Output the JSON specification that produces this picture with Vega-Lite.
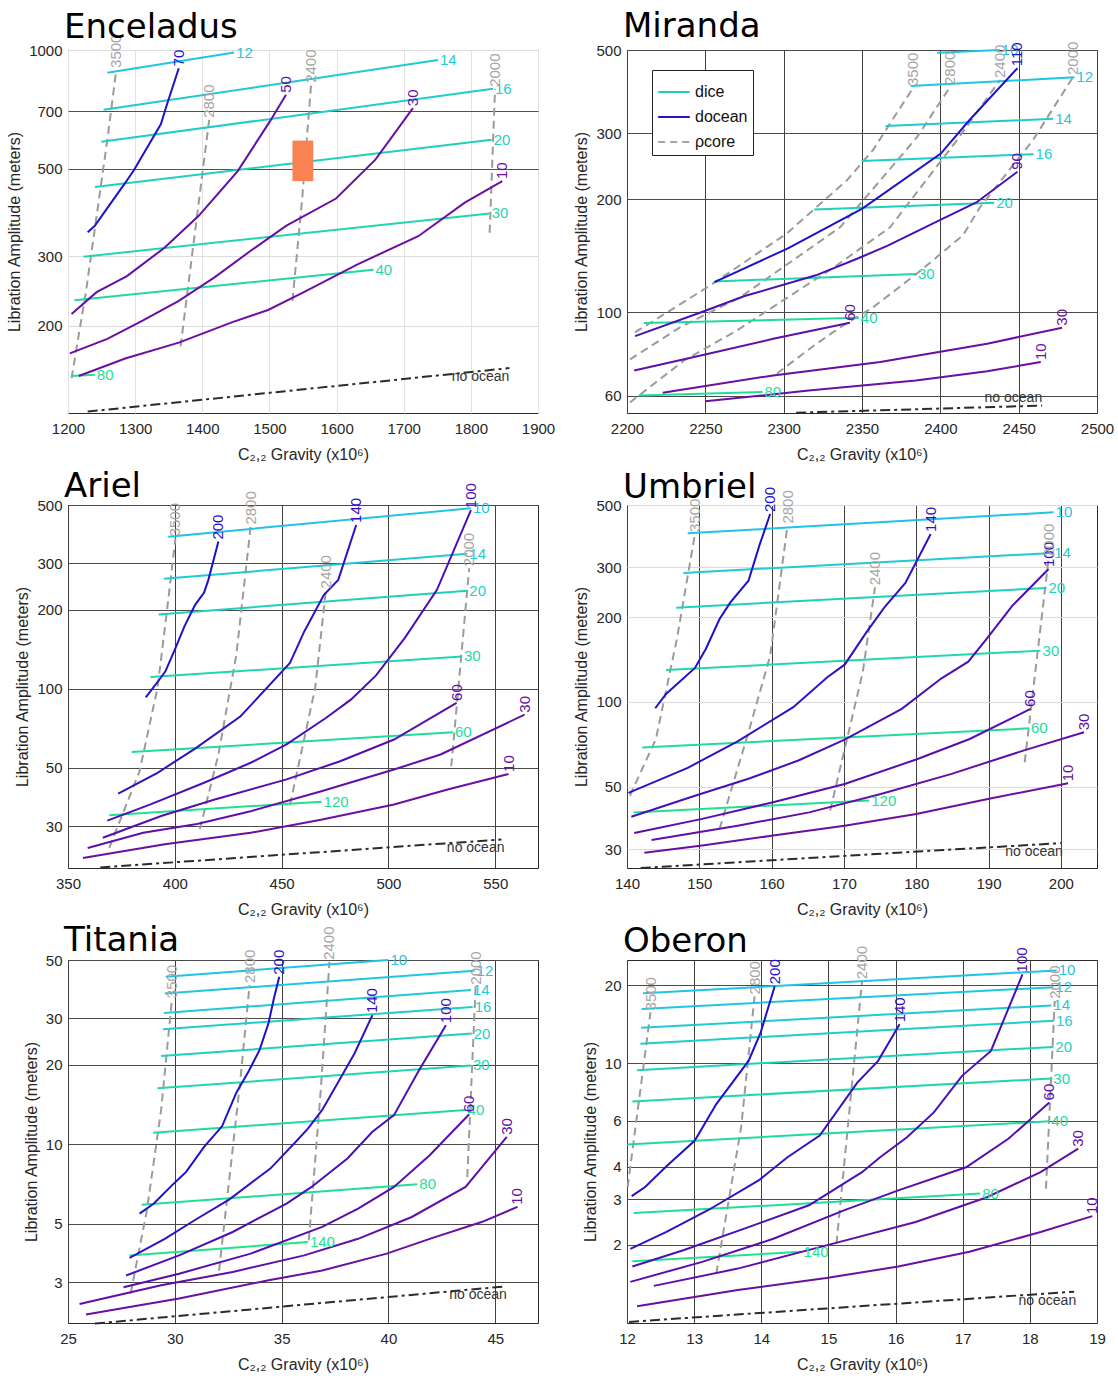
{
"$schema":"https://vega.github.io/schema/vega-lite/v6.json",
"background":"white",
"padding":{"left":6,"top":9,"right":0,"bottom":0},
"columns":2,
"spacing":{"row":92,"column":89},
"bounds":"flush",
"resolve":{"scale":{"color":"independent","strokeDash":"independent"},"legend":{"color":"independent","strokeDash":"independent"}},
"datasets":{
"enc":[
{"id":"i12","k":"ice","c":"i12","t":"12","x":1258.6,"y":876},{"id":"i12","k":"ice","c":"i12","t":"12","x":1447.5,"y":985},
{"id":"i14","k":"ice","c":"i14","t":"14","x":1253,"y":705},{"id":"i14","k":"ice","c":"i14","t":"14","x":1751,"y":943},
{"id":"i16","k":"ice","c":"i16","t":"16","x":1249.5,"y":585},{"id":"i16","k":"ice","c":"i16","t":"16","x":1833,"y":797},
{"id":"i20","k":"ice","c":"i20","t":"20","x":1240,"y":449},{"id":"i20","k":"ice","c":"i20","t":"20","x":1831,"y":592},
{"id":"i30","k":"ice","c":"i30","t":"30","x":1223,"y":299},{"id":"i30","k":"ice","c":"i30","t":"30","x":1828,"y":385},
{"id":"i40","k":"ice","c":"i40","t":"40","x":1209.6,"y":232},{"id":"i40","k":"ice","c":"i40","t":"40","x":1655,"y":277},
{"id":"i80","k":"ice","c":"i80","t":"80","x":1205,"y":149},{"id":"i80","k":"ice","c":"i80","t":"80","x":1240,"y":150},
{"id":"o70","k":"ocean","c":"o1","t":"70","x":1229.3,"y":345},{"id":"o70","k":"ocean","c":"o1","t":"70","x":1239.9,"y":358},{"id":"o70","k":"ocean","c":"o1","t":"70","x":1250.6,"y":380},{"id":"o70","k":"ocean","c":"o1","t":"70","x":1285.2,"y":460},{"id":"o70","k":"ocean","c":"o1","t":"70","x":1298.5,"y":497},{"id":"o70","k":"ocean","c":"o1","t":"70","x":1338.4,"y":649},{"id":"o70","k":"ocean","c":"o1","t":"70","x":1346.4,"y":719},{"id":"o70","k":"ocean","c":"o1","t":"70","x":1365,"y":899},
{"id":"o50","k":"ocean","c":"o5","t":"50","x":1205.3,"y":214},{"id":"o50","k":"ocean","c":"o5","t":"50","x":1242.6,"y":243},{"id":"o50","k":"ocean","c":"o5","t":"50","x":1287.8,"y":267},{"id":"o50","k":"ocean","c":"o5","t":"50","x":1343.7,"y":315},{"id":"o50","k":"ocean","c":"o5","t":"50","x":1394.3,"y":379},{"id":"o50","k":"ocean","c":"o5","t":"50","x":1452.8,"y":493},{"id":"o50","k":"ocean","c":"o5","t":"50","x":1500.7,"y":659},{"id":"o50","k":"ocean","c":"o5","t":"50","x":1524.7,"y":770},
{"id":"o30","k":"ocean","c":"o6","t":"30","x":1202.7,"y":170},{"id":"o30","k":"ocean","c":"o6","t":"30","x":1258.6,"y":185},{"id":"o30","k":"ocean","c":"o6","t":"30","x":1311.8,"y":206},{"id":"o30","k":"ocean","c":"o6","t":"30","x":1365,"y":231},{"id":"o30","k":"ocean","c":"o6","t":"30","x":1418.2,"y":265},{"id":"o30","k":"ocean","c":"o6","t":"30","x":1471.5,"y":309},{"id":"o30","k":"ocean","c":"o6","t":"30","x":1524.7,"y":358},{"id":"o30","k":"ocean","c":"o6","t":"30","x":1599.2,"y":420},{"id":"o30","k":"ocean","c":"o6","t":"30","x":1657.8,"y":527},{"id":"o30","k":"ocean","c":"o6","t":"30","x":1713.7,"y":712},
{"id":"o10","k":"ocean","c":"o6","t":"10","x":1216,"y":149},{"id":"o10","k":"ocean","c":"o6","t":"10","x":1285.2,"y":165},{"id":"o10","k":"ocean","c":"o6","t":"10","x":1365,"y":181},{"id":"o10","k":"ocean","c":"o6","t":"10","x":1444.9,"y":204},{"id":"o10","k":"ocean","c":"o6","t":"10","x":1498,"y":219},{"id":"o10","k":"ocean","c":"o6","t":"10","x":1551.3,"y":243},{"id":"o10","k":"ocean","c":"o6","t":"10","x":1631.2,"y":286},{"id":"o10","k":"ocean","c":"o6","t":"10","x":1721.7,"y":337},{"id":"o10","k":"ocean","c":"o6","t":"10","x":1790.9,"y":410},{"id":"o10","k":"ocean","c":"o6","t":"10","x":1846.8,"y":465},
{"id":"c3500","k":"core","t":"3500","x":1205.3,"y":147},{"id":"c3500","k":"core","t":"3500","x":1226.6,"y":243},{"id":"c3500","k":"core","t":"3500","x":1242.6,"y":379},{"id":"c3500","k":"core","t":"3500","x":1258.6,"y":592},{"id":"c3500","k":"core","t":"3500","x":1271.9,"y":890},
{"id":"c2800","k":"core","t":"2800","x":1367.7,"y":177},{"id":"c2800","k":"core","t":"2800","x":1389,"y":344},{"id":"c2800","k":"core","t":"2800","x":1410.3,"y":665},
{"id":"c2400","k":"core","t":"2400","x":1534.3,"y":231},{"id":"c2400","k":"core","t":"2400","x":1548.7,"y":418},{"id":"c2400","k":"core","t":"2400","x":1562,"y":816},
{"id":"c2000","k":"core","t":"2000","x":1828,"y":344},{"id":"c2000","k":"core","t":"2000","x":1836,"y":797},
{"id":"n","k":"none","t":"no ocean","x":1229.3,"y":121},{"id":"n","k":"none","t":"no ocean","x":1857.4,"y":156}
],
"mir":[
{"id":"i10","k":"ice","c":"i10","t":"10","x":2398,"y":492},{"id":"i10","k":"ice","c":"i10","t":"10","x":2437.8,"y":500},
{"id":"i12","k":"ice","c":"i12","t":"12","x":2381,"y":401},{"id":"i12","k":"ice","c":"i12","t":"12","x":2485.6,"y":423},
{"id":"i14","k":"ice","c":"i14","t":"14","x":2365,"y":313.6},{"id":"i14","k":"ice","c":"i14","t":"14","x":2472,"y":328},
{"id":"i16","k":"ice","c":"i16","t":"16","x":2349.8,"y":253},{"id":"i16","k":"ice","c":"i16","t":"16","x":2459.5,"y":264},
{"id":"i20","k":"ice","c":"i20","t":"20","x":2319.5,"y":188},{"id":"i20","k":"ice","c":"i20","t":"20","x":2434.4,"y":196},
{"id":"i30","k":"ice","c":"i30","t":"30","x":2255.8,"y":121},{"id":"i30","k":"ice","c":"i30","t":"30","x":2384.4,"y":126.6},
{"id":"i40","k":"ice","c":"i40","t":"40","x":2210.7,"y":93.7},{"id":"i40","k":"ice","c":"i40","t":"40","x":2348,"y":96.8},
{"id":"i80","k":"ice","c":"i80","t":"80","x":2207.3,"y":60.1},{"id":"i80","k":"ice","c":"i80","t":"80","x":2286.5,"y":61.4},
{"id":"o110","k":"ocean","c":"o1","t":"110","x":2255.8,"y":120.5},{"id":"o110","k":"ocean","c":"o1","t":"110","x":2302.4,"y":148},{"id":"o110","k":"ocean","c":"o1","t":"110","x":2350.2,"y":189},{"id":"o110","k":"ocean","c":"o1","t":"110","x":2400.3,"y":265},{"id":"o110","k":"ocean","c":"o1","t":"110","x":2418.5,"y":325},{"id":"o110","k":"ocean","c":"o1","t":"110","x":2449.2,"y":447},
{"id":"o90","k":"ocean","c":"o3","t":"90","x":2205.2,"y":86.5},{"id":"o90","k":"ocean","c":"o3","t":"90","x":2247.8,"y":100.3},{"id":"o90","k":"ocean","c":"o3","t":"90","x":2275.1,"y":110.6},{"id":"o90","k":"ocean","c":"o3","t":"90","x":2320.6,"y":125.6},{"id":"o90","k":"ocean","c":"o3","t":"90","x":2348,"y":139.7},{"id":"o90","k":"ocean","c":"o3","t":"90","x":2366.1,"y":150.4},{"id":"o90","k":"ocean","c":"o3","t":"90","x":2400.3,"y":176.8},{"id":"o90","k":"ocean","c":"o3","t":"90","x":2423,"y":196.3},{"id":"o90","k":"ocean","c":"o3","t":"90","x":2449.2,"y":237},
{"id":"o60","k":"ocean","c":"o5","t":"60","x":2204.6,"y":70.1},{"id":"o60","k":"ocean","c":"o5","t":"60","x":2247.8,"y":76.9},{"id":"o60","k":"ocean","c":"o5","t":"60","x":2293.3,"y":85.1},{"id":"o60","k":"ocean","c":"o5","t":"60","x":2342.3,"y":93.9},
{"id":"o30","k":"ocean","c":"o6","t":"30","x":2222.8,"y":61.1},{"id":"o30","k":"ocean","c":"o6","t":"30","x":2293.3,"y":68},{"id":"o30","k":"ocean","c":"o6","t":"30","x":2361.6,"y":73.8},{"id":"o30","k":"ocean","c":"o6","t":"30","x":2429.9,"y":82.6},{"id":"o30","k":"ocean","c":"o6","t":"30","x":2477.7,"y":91.1},
{"id":"o10","k":"ocean","c":"o6","t":"10","x":2250,"y":58},{"id":"o10","k":"ocean","c":"o6","t":"10","x":2316,"y":62},{"id":"o10","k":"ocean","c":"o6","t":"10","x":2384.4,"y":65.9},{"id":"o10","k":"ocean","c":"o6","t":"10","x":2429.9,"y":69.8},{"id":"o10","k":"ocean","c":"o6","t":"10","x":2464.1,"y":73.8},
{"id":"c3500","k":"core","t":"3500","x":2205.1,"y":88.5},{"id":"c3500","k":"core","t":"3500","x":2225.5,"y":100},{"id":"c3500","k":"core","t":"3500","x":2253,"y":118},{"id":"c3500","k":"core","t":"3500","x":2302.1,"y":162.5},{"id":"c3500","k":"core","t":"3500","x":2340.4,"y":225},{"id":"c3500","k":"core","t":"3500","x":2357,"y":270.7},{"id":"c3500","k":"core","t":"3500","x":2382.5,"y":396},
{"id":"c2800","k":"core","t":"2800","x":2201.9,"y":75},{"id":"c2800","k":"core","t":"2800","x":2233.8,"y":91.3},{"id":"c2800","k":"core","t":"2800","x":2272.1,"y":109.7},{"id":"c2800","k":"core","t":"2800","x":2336,"y":168.6},{"id":"c2800","k":"core","t":"2800","x":2363.4,"y":229.2},{"id":"c2800","k":"core","t":"2800","x":2385.1,"y":293},{"id":"c2800","k":"core","t":"2800","x":2406.2,"y":398.5},
{"id":"c2400","k":"core","t":"2400","x":2201.9,"y":57.6},{"id":"c2400","k":"core","t":"2400","x":2236.4,"y":74.5},{"id":"c2400","k":"core","t":"2400","x":2270.2,"y":89.6},{"id":"c2400","k":"core","t":"2400","x":2332.1,"y":131.9},{"id":"c2400","k":"core","t":"2400","x":2367.9,"y":168.6},{"id":"c2400","k":"core","t":"2400","x":2410.6,"y":287.7},{"id":"c2400","k":"core","t":"2400","x":2438.1,"y":416},
{"id":"c2000","k":"core","t":"2000","x":2295.7,"y":68.8},{"id":"c2000","k":"core","t":"2000","x":2319.4,"y":81.7},{"id":"c2000","k":"core","t":"2000","x":2336,"y":91.3},{"id":"c2000","k":"core","t":"2000","x":2357,"y":103.2},{"id":"c2000","k":"core","t":"2000","x":2385.1,"y":127},{"id":"c2000","k":"core","t":"2000","x":2414.5,"y":160.6},{"id":"c2000","k":"core","t":"2000","x":2425.3,"y":190.7},{"id":"c2000","k":"core","t":"2000","x":2459.1,"y":287.7},{"id":"c2000","k":"core","t":"2000","x":2484.7,"y":423.6},
{"id":"n","k":"none","t":"no ocean","x":2308,"y":54.1},{"id":"n","k":"none","t":"no ocean","x":2465,"y":56.5}
],
"ari":[
{"id":"i10","k":"ice","c":"i10","t":"10","x":396.9,"y":379},{"id":"i10","k":"ice","c":"i10","t":"10","x":538.6,"y":485.6},
{"id":"i14","k":"ice","c":"i14","t":"14","x":394.9,"y":262},{"id":"i14","k":"ice","c":"i14","t":"14","x":536.9,"y":326},
{"id":"i20","k":"ice","c":"i20","t":"20","x":392.4,"y":191.7},{"id":"i20","k":"ice","c":"i20","t":"20","x":536.9,"y":236},
{"id":"i30","k":"ice","c":"i30","t":"30","x":388.6,"y":110.8},{"id":"i30","k":"ice","c":"i30","t":"30","x":534.4,"y":132.7},
{"id":"i60","k":"ice","c":"i60","t":"60","x":379.8,"y":57.4},{"id":"i60","k":"ice","c":"i60","t":"60","x":530.2,"y":68.3},
{"id":"i120","k":"ice","c":"i120","t":"120","x":369.3,"y":33.05},{"id":"i120","k":"ice","c":"i120","t":"120","x":468.7,"y":37.2},
{"id":"o200","k":"ocean","c":"o1","t":"200","x":386.4,"y":92.8},{"id":"o200","k":"ocean","c":"o1","t":"200","x":392.7,"y":108.2},{"id":"o200","k":"ocean","c":"o1","t":"200","x":395.6,"y":116.5},{"id":"o200","k":"ocean","c":"o1","t":"200","x":400.3,"y":142.7},{"id":"o200","k":"ocean","c":"o1","t":"200","x":404.5,"y":172.6},{"id":"o200","k":"ocean","c":"o1","t":"200","x":409.5,"y":208.6},{"id":"o200","k":"ocean","c":"o1","t":"200","x":413.7,"y":232.4},{"id":"o200","k":"ocean","c":"o1","t":"200","x":415.7,"y":259.5},{"id":"o200","k":"ocean","c":"o1","t":"200","x":420.4,"y":362.9},
{"id":"o140","k":"ocean","c":"o2","t":"140","x":373.5,"y":39.9},{"id":"o140","k":"ocean","c":"o2","t":"140","x":391.9,"y":47.9},{"id":"o140","k":"ocean","c":"o2","t":"140","x":409.5,"y":59.2},{"id":"o140","k":"ocean","c":"o2","t":"140","x":430.8,"y":78.6},{"id":"o140","k":"ocean","c":"o2","t":"140","x":453.9,"y":125.3},{"id":"o140","k":"ocean","c":"o2","t":"140","x":460.6,"y":165.2},{"id":"o140","k":"ocean","c":"o2","t":"140","x":469.8,"y":227.6},{"id":"o140","k":"ocean","c":"o2","t":"140","x":476.5,"y":259.5},{"id":"o140","k":"ocean","c":"o2","t":"140","x":484.9,"y":419.8},
{"id":"o100","k":"ocean","c":"o3","t":"100","x":368.4,"y":31.5},{"id":"o100","k":"ocean","c":"o3","t":"100","x":388.6,"y":36.3},{"id":"o100","k":"ocean","c":"o3","t":"100","x":413.7,"y":43.9},{"id":"o100","k":"ocean","c":"o3","t":"100","x":435.5,"y":52.3},{"id":"o100","k":"ocean","c":"o3","t":"100","x":452.3,"y":61.4},{"id":"o100","k":"ocean","c":"o3","t":"100","x":470.7,"y":77.4},{"id":"o100","k":"ocean","c":"o3","t":"100","x":482.4,"y":90.9},{"id":"o100","k":"ocean","c":"o3","t":"100","x":494.2,"y":112.4},{"id":"o100","k":"ocean","c":"o3","t":"100","x":507.6,"y":155.8},{"id":"o100","k":"ocean","c":"o3","t":"100","x":522.7,"y":237.8},{"id":"o100","k":"ocean","c":"o3","t":"100","x":538.6,"y":478},
{"id":"o60","k":"ocean","c":"o4","t":"60","x":366.3,"y":27.1},{"id":"o60","k":"ocean","c":"o4","t":"60","x":393.6,"y":32.8},{"id":"o60","k":"ocean","c":"o4","t":"60","x":418.7,"y":37.9},{"id":"o60","k":"ocean","c":"o4","t":"60","x":452.3,"y":45.2},{"id":"o60","k":"ocean","c":"o4","t":"60","x":477.4,"y":53},{"id":"o60","k":"ocean","c":"o4","t":"60","x":502.6,"y":64.1},{"id":"o60","k":"ocean","c":"o4","t":"60","x":531.9,"y":88.3},
{"id":"o30","k":"ocean","c":"o5","t":"30","x":359.2,"y":24.8},{"id":"o30","k":"ocean","c":"o5","t":"30","x":385.2,"y":28.3},{"id":"o30","k":"ocean","c":"o5","t":"30","x":410.4,"y":30.6},{"id":"o30","k":"ocean","c":"o5","t":"30","x":435.5,"y":34.2},{"id":"o30","k":"ocean","c":"o5","t":"30","x":469,"y":40.8},{"id":"o30","k":"ocean","c":"o5","t":"30","x":502.6,"y":49.3},{"id":"o30","k":"ocean","c":"o5","t":"30","x":524.4,"y":56.2},{"id":"o30","k":"ocean","c":"o5","t":"30","x":563.7,"y":79.7},
{"id":"o10","k":"ocean","c":"o6","t":"10","x":357,"y":22.7},{"id":"o10","k":"ocean","c":"o6","t":"10","x":395.3,"y":25.6},{"id":"o10","k":"ocean","c":"o6","t":"10","x":435.5,"y":28.3},{"id":"o10","k":"ocean","c":"o6","t":"10","x":469,"y":31.8},{"id":"o10","k":"ocean","c":"o6","t":"10","x":502.6,"y":36.3},{"id":"o10","k":"ocean","c":"o6","t":"10","x":527.7,"y":41.4},{"id":"o10","k":"ocean","c":"o6","t":"10","x":556.2,"y":47.4},
{"id":"c3500","k":"core","t":"3500","x":369.3,"y":24.8},{"id":"c3500","k":"core","t":"3500","x":383.5,"y":48.6},{"id":"c3500","k":"core","t":"3500","x":391.9,"y":100.7},{"id":"c3500","k":"core","t":"3500","x":396.1,"y":191.2},{"id":"c3500","k":"core","t":"3500","x":400.3,"y":373.4},
{"id":"c2800","k":"core","t":"2800","x":411.7,"y":29.2},{"id":"c2800","k":"core","t":"2800","x":420.4,"y":56.2},{"id":"c2800","k":"core","t":"2800","x":428.8,"y":134.7},{"id":"c2800","k":"core","t":"2800","x":435.5,"y":413.9},
{"id":"c2400","k":"core","t":"2400","x":453.9,"y":36.1},{"id":"c2400","k":"core","t":"2400","x":465.7,"y":100.7},{"id":"c2400","k":"core","t":"2400","x":470.7,"y":236.6},
{"id":"c2000","k":"core","t":"2000","x":529.4,"y":50.7},{"id":"c2000","k":"core","t":"2000","x":537.8,"y":287.4},
{"id":"n","k":"none","t":"no ocean","x":365.1,"y":20.9},{"id":"n","k":"none","t":"no ocean","x":552.9,"y":26.7}
],
"umb":[
{"id":"i10","k":"ice","c":"i10","t":"10","x":148.4,"y":396.8},{"id":"i10","k":"ice","c":"i10","t":"10","x":199,"y":470.9},
{"id":"i14","k":"ice","c":"i14","t":"14","x":147.8,"y":286.8},{"id":"i14","k":"ice","c":"i14","t":"14","x":198.8,"y":337.8},
{"id":"i20","k":"ice","c":"i20","t":"20","x":146.8,"y":216},{"id":"i20","k":"ice","c":"i20","t":"20","x":198,"y":253.7},
{"id":"i30","k":"ice","c":"i30","t":"30","x":145.4,"y":129.8},{"id":"i30","k":"ice","c":"i30","t":"30","x":197.2,"y":152},
{"id":"i60","k":"ice","c":"i60","t":"60","x":142.1,"y":68.8},{"id":"i60","k":"ice","c":"i60","t":"60","x":195.6,"y":80.5},
{"id":"i120","k":"ice","c":"i120","t":"120","x":140.9,"y":40.5},{"id":"i120","k":"ice","c":"i120","t":"120","x":173.5,"y":44.6},
{"id":"o200","k":"ocean","c":"o1","t":"200","x":143.9,"y":94.9},{"id":"o200","k":"ocean","c":"o1","t":"200","x":145.4,"y":106.7},{"id":"o200","k":"ocean","c":"o1","t":"200","x":149.4,"y":131.9},{"id":"o200","k":"ocean","c":"o1","t":"200","x":150.9,"y":154.1},{"id":"o200","k":"ocean","c":"o1","t":"200","x":152.8,"y":196.9},{"id":"o200","k":"ocean","c":"o1","t":"200","x":154.3,"y":225.6},{"id":"o200","k":"ocean","c":"o1","t":"200","x":156.8,"y":269.3},{"id":"o200","k":"ocean","c":"o1","t":"200","x":158.3,"y":358.6},{"id":"o200","k":"ocean","c":"o1","t":"200","x":159.8,"y":464.4},
{"id":"o140","k":"ocean","c":"o2","t":"140","x":140.2,"y":47.5},{"id":"o140","k":"ocean","c":"o2","t":"140","x":148.4,"y":58.3},{"id":"o140","k":"ocean","c":"o2","t":"140","x":155.3,"y":72.4},{"id":"o140","k":"ocean","c":"o2","t":"140","x":163,"y":95.7},{"id":"o140","k":"ocean","c":"o2","t":"140","x":167.7,"y":122.2},{"id":"o140","k":"ocean","c":"o2","t":"140","x":170.1,"y":135.5},{"id":"o140","k":"ocean","c":"o2","t":"140","x":173.1,"y":176.5},{"id":"o140","k":"ocean","c":"o2","t":"140","x":175.6,"y":216.6},{"id":"o140","k":"ocean","c":"o2","t":"140","x":178.5,"y":264.2},{"id":"o140","k":"ocean","c":"o2","t":"140","x":182,"y":394.6},
{"id":"o100","k":"ocean","c":"o3","t":"100","x":140.6,"y":39.1},{"id":"o100","k":"ocean","c":"o3","t":"100","x":149.4,"y":46.4},{"id":"o100","k":"ocean","c":"o3","t":"100","x":156.8,"y":53.3},{"id":"o100","k":"ocean","c":"o3","t":"100","x":163.7,"y":61.9},{"id":"o100","k":"ocean","c":"o3","t":"100","x":170.1,"y":73.4},{"id":"o100","k":"ocean","c":"o3","t":"100","x":178,"y":94.4},{"id":"o100","k":"ocean","c":"o3","t":"100","x":183.5,"y":121.2},{"id":"o100","k":"ocean","c":"o3","t":"100","x":187.2,"y":138.9},{"id":"o100","k":"ocean","c":"o3","t":"100","x":189.9,"y":169.5},{"id":"o100","k":"ocean","c":"o3","t":"100","x":193.3,"y":219.6},{"id":"o100","k":"ocean","c":"o3","t":"100","x":198.3,"y":296.3},
{"id":"o60","k":"ocean","c":"o4","t":"60","x":141,"y":34.2},{"id":"o60","k":"ocean","c":"o4","t":"60","x":150.4,"y":38.4},{"id":"o60","k":"ocean","c":"o4","t":"60","x":160.2,"y":44},{"id":"o60","k":"ocean","c":"o4","t":"60","x":170.1,"y":51.1},{"id":"o60","k":"ocean","c":"o4","t":"60","x":180,"y":62.4},{"id":"o60","k":"ocean","c":"o4","t":"60","x":187.4,"y":73.8},{"id":"o60","k":"ocean","c":"o4","t":"60","x":195.8,"y":94.4},
{"id":"o30","k":"ocean","c":"o5","t":"30","x":143.4,"y":32.3},{"id":"o30","k":"ocean","c":"o5","t":"30","x":155.3,"y":36.3},{"id":"o30","k":"ocean","c":"o5","t":"30","x":165.2,"y":40.5},{"id":"o30","k":"ocean","c":"o5","t":"30","x":175.1,"y":47.1},{"id":"o30","k":"ocean","c":"o5","t":"30","x":184.9,"y":55.5},{"id":"o30","k":"ocean","c":"o5","t":"30","x":194.8,"y":67.1},{"id":"o30","k":"ocean","c":"o5","t":"30","x":203.2,"y":78},
{"id":"o10","k":"ocean","c":"o6","t":"10","x":142.4,"y":29.1},{"id":"o10","k":"ocean","c":"o6","t":"10","x":150.4,"y":30.9},{"id":"o10","k":"ocean","c":"o6","t":"10","x":160.2,"y":33.5},{"id":"o10","k":"ocean","c":"o6","t":"10","x":170.1,"y":36.3},{"id":"o10","k":"ocean","c":"o6","t":"10","x":180,"y":40},{"id":"o10","k":"ocean","c":"o6","t":"10","x":189.9,"y":45.2},{"id":"o10","k":"ocean","c":"o6","t":"10","x":201,"y":51.4},
{"id":"c3500","k":"core","t":"3500","x":140.4,"y":46.4},{"id":"c3500","k":"core","t":"3500","x":144,"y":73.8},{"id":"c3500","k":"core","t":"3500","x":146.9,"y":167.2},{"id":"c3500","k":"core","t":"3500","x":149.4,"y":394.6},
{"id":"c2800","k":"core","t":"2800","x":152.8,"y":35.4},{"id":"c2800","k":"core","t":"2800","x":156.8,"y":78},{"id":"c2800","k":"core","t":"2800","x":159.8,"y":145.9},{"id":"c2800","k":"core","t":"2800","x":162.2,"y":422.6},
{"id":"c2400","k":"core","t":"2400","x":168.1,"y":41.1},{"id":"c2400","k":"core","t":"2400","x":172.6,"y":127.3},{"id":"c2400","k":"core","t":"2400","x":174.3,"y":255},
{"id":"c2000","k":"core","t":"2000","x":195,"y":61},{"id":"c2000","k":"core","t":"2000","x":198.3,"y":321.6},
{"id":"n","k":"none","t":"no ocean","x":141.9,"y":25.7},{"id":"n","k":"none","t":"no ocean","x":200,"y":31.5}
],
"tit":[
{"id":"i10","k":"ice","c":"i10","t":"10","x":29.58,"y":43.2},{"id":"i10","k":"ice","c":"i10","t":"10","x":40,"y":50},
{"id":"i12","k":"ice","c":"i12","t":"12","x":29.53,"y":37.3},{"id":"i12","k":"ice","c":"i12","t":"12","x":44.03,"y":45.5},
{"id":"i14","k":"ice","c":"i14","t":"14","x":29.49,"y":31.5},{"id":"i14","k":"ice","c":"i14","t":"14","x":43.86,"y":38.5},
{"id":"i16","k":"ice","c":"i16","t":"16","x":29.44,"y":27.3},{"id":"i16","k":"ice","c":"i16","t":"16","x":43.94,"y":33.2},
{"id":"i20","k":"ice","c":"i20","t":"20","x":29.36,"y":21.6},{"id":"i20","k":"ice","c":"i20","t":"20","x":43.9,"y":26.3},
{"id":"i30","k":"ice","c":"i30","t":"30","x":29.19,"y":16.3},{"id":"i30","k":"ice","c":"i30","t":"30","x":43.86,"y":19.9},
{"id":"i40","k":"ice","c":"i40","t":"40","x":28.99,"y":11.05},{"id":"i40","k":"ice","c":"i40","t":"40","x":43.61,"y":13.5},
{"id":"i80","k":"ice","c":"i80","t":"80","x":28.45,"y":5.9},{"id":"i80","k":"ice","c":"i80","t":"80","x":41.35,"y":7.05},
{"id":"i140","k":"ice","c":"i140","t":"140","x":27.88,"y":3.79},{"id":"i140","k":"ice","c":"i140","t":"140","x":36.23,"y":4.26},
{"id":"o200","k":"ocean","c":"o1","t":"200","x":28.35,"y":5.46},{"id":"o200","k":"ocean","c":"o1","t":"200","x":29.02,"y":5.96},{"id":"o200","k":"ocean","c":"o1","t":"200","x":30.03,"y":7.2},{"id":"o200","k":"ocean","c":"o1","t":"200","x":30.53,"y":7.86},{"id":"o200","k":"ocean","c":"o1","t":"200","x":31.37,"y":9.77},{"id":"o200","k":"ocean","c":"o1","t":"200","x":32.21,"y":11.7},{"id":"o200","k":"ocean","c":"o1","t":"200","x":32.88,"y":15.7},{"id":"o200","k":"ocean","c":"o1","t":"200","x":33.47,"y":19},{"id":"o200","k":"ocean","c":"o1","t":"200","x":33.97,"y":22.8},{"id":"o200","k":"ocean","c":"o1","t":"200","x":34.39,"y":28.9},{"id":"o200","k":"ocean","c":"o1","t":"200","x":34.64,"y":35.8},{"id":"o200","k":"ocean","c":"o1","t":"200","x":34.89,"y":43.2},
{"id":"o140","k":"ocean","c":"o2","t":"140","x":27.88,"y":3.71},{"id":"o140","k":"ocean","c":"o2","t":"140","x":29.53,"y":4.38},{"id":"o140","k":"ocean","c":"o2","t":"140","x":31.04,"y":5.22},{"id":"o140","k":"ocean","c":"o2","t":"140","x":32.54,"y":6.17},{"id":"o140","k":"ocean","c":"o2","t":"140","x":34.47,"y":8.09},{"id":"o140","k":"ocean","c":"o2","t":"140","x":35.73,"y":10.36},{"id":"o140","k":"ocean","c":"o2","t":"140","x":36.23,"y":11.47},{"id":"o140","k":"ocean","c":"o2","t":"140","x":36.9,"y":13.5},{"id":"o140","k":"ocean","c":"o2","t":"140","x":37.57,"y":16.8},{"id":"o140","k":"ocean","c":"o2","t":"140","x":38.41,"y":22.1},{"id":"o140","k":"ocean","c":"o2","t":"140","x":39.25,"y":30.9},
{"id":"o100","k":"ocean","c":"o3","t":"100","x":27.72,"y":3.18},{"id":"o100","k":"ocean","c":"o3","t":"100","x":30.2,"y":3.79},{"id":"o100","k":"ocean","c":"o3","t":"100","x":32.71,"y":4.65},{"id":"o100","k":"ocean","c":"o3","t":"100","x":35.23,"y":5.96},{"id":"o100","k":"ocean","c":"o3","t":"100","x":36.4,"y":6.89},{"id":"o100","k":"ocean","c":"o3","t":"100","x":38.08,"y":8.83},{"id":"o100","k":"ocean","c":"o3","t":"100","x":39.25,"y":11.15},{"id":"o100","k":"ocean","c":"o3","t":"100","x":40.26,"y":12.9},{"id":"o100","k":"ocean","c":"o3","t":"100","x":41.43,"y":19.1},{"id":"o100","k":"ocean","c":"o3","t":"100","x":42.69,"y":28.3},
{"id":"o60","k":"ocean","c":"o4","t":"60","x":27.6,"y":2.87},{"id":"o60","k":"ocean","c":"o4","t":"60","x":30.2,"y":3.23},{"id":"o60","k":"ocean","c":"o4","t":"60","x":33.55,"y":3.85},{"id":"o60","k":"ocean","c":"o4","t":"60","x":36.9,"y":4.86},{"id":"o60","k":"ocean","c":"o4","t":"60","x":38.58,"y":5.7},{"id":"o60","k":"ocean","c":"o4","t":"60","x":40.26,"y":6.89},{"id":"o60","k":"ocean","c":"o4","t":"60","x":41.93,"y":9.09},{"id":"o60","k":"ocean","c":"o4","t":"60","x":43.78,"y":13},
{"id":"o30","k":"ocean","c":"o5","t":"30","x":25.54,"y":2.48},{"id":"o30","k":"ocean","c":"o5","t":"30","x":29.36,"y":2.92},{"id":"o30","k":"ocean","c":"o5","t":"30","x":32.71,"y":3.28},{"id":"o30","k":"ocean","c":"o5","t":"30","x":36.06,"y":3.79},{"id":"o30","k":"ocean","c":"o5","t":"30","x":38.58,"y":4.38},{"id":"o30","k":"ocean","c":"o5","t":"30","x":41.09,"y":5.3},{"id":"o30","k":"ocean","c":"o5","t":"30","x":43.61,"y":6.89},{"id":"o30","k":"ocean","c":"o5","t":"30","x":45.54,"y":10.67},
{"id":"o10","k":"ocean","c":"o6","t":"10","x":25.84,"y":2.26},{"id":"o10","k":"ocean","c":"o6","t":"10","x":30.2,"y":2.6},{"id":"o10","k":"ocean","c":"o6","t":"10","x":34.39,"y":3.05},{"id":"o10","k":"ocean","c":"o6","t":"10","x":36.9,"y":3.32},{"id":"o10","k":"ocean","c":"o6","t":"10","x":39.92,"y":3.85},{"id":"o10","k":"ocean","c":"o6","t":"10","x":41.93,"y":4.38},{"id":"o10","k":"ocean","c":"o6","t":"10","x":44.36,"y":5.07},{"id":"o10","k":"ocean","c":"o6","t":"10","x":46.04,"y":5.79},
{"id":"c3500","k":"core","t":"3500","x":27.93,"y":2.71},{"id":"c3500","k":"core","t":"3500","x":28.69,"y":5.6},{"id":"c3500","k":"core","t":"3500","x":29.36,"y":13.5},{"id":"c3500","k":"core","t":"3500","x":29.86,"y":35.2},
{"id":"c2800","k":"core","t":"2800","x":32.07,"y":3.32},{"id":"c2800","k":"core","t":"2800","x":33.05,"y":17},{"id":"c2800","k":"core","t":"2800","x":33.5,"y":40.2},
{"id":"c2400","k":"core","t":"2400","x":36.27,"y":4.32},{"id":"c2400","k":"core","t":"2400","x":36.82,"y":15.6},{"id":"c2400","k":"core","t":"2400","x":37.24,"y":49.2},
{"id":"c2000","k":"core","t":"2000","x":43.69,"y":7.52},{"id":"c2000","k":"core","t":"2000","x":44.08,"y":39.6},
{"id":"n","k":"none","t":"no ocean","x":26.26,"y":2.09},{"id":"n","k":"none","t":"no ocean","x":45.45,"y":2.89}
],
"obe":[
{"id":"i10","k":"ice","c":"i10","t":"10","x":12.24,"y":18.6},{"id":"i10","k":"ice","c":"i10","t":"10","x":18.4,"y":22.8},
{"id":"i12","k":"ice","c":"i12","t":"12","x":12.22,"y":16.2},{"id":"i12","k":"ice","c":"i12","t":"12","x":18.35,"y":19.65},
{"id":"i14","k":"ice","c":"i14","t":"14","x":12.21,"y":13.7},{"id":"i14","k":"ice","c":"i14","t":"14","x":18.32,"y":16.7},
{"id":"i16","k":"ice","c":"i16","t":"16","x":12.2,"y":11.9},{"id":"i16","k":"ice","c":"i16","t":"16","x":18.36,"y":14.6},
{"id":"i20","k":"ice","c":"i20","t":"20","x":12.15,"y":9.41},{"id":"i20","k":"ice","c":"i20","t":"20","x":18.35,"y":11.57},
{"id":"i30","k":"ice","c":"i30","t":"30","x":12.08,"y":7.13},{"id":"i30","k":"ice","c":"i30","t":"30","x":18.32,"y":8.74},
{"id":"i40","k":"ice","c":"i40","t":"40","x":12.0,"y":4.87},{"id":"i40","k":"ice","c":"i40","t":"40","x":18.29,"y":5.98},
{"id":"i80","k":"ice","c":"i80","t":"80","x":12.1,"y":2.65},{"id":"i80","k":"ice","c":"i80","t":"80","x":17.26,"y":3.15},
{"id":"i140","k":"ice","c":"i140","t":"140","x":12.08,"y":1.73},{"id":"i140","k":"ice","c":"i140","t":"140","x":14.6,"y":1.88},
{"id":"o200","k":"ocean","c":"o1","t":"200","x":12.07,"y":3.08},{"id":"o200","k":"ocean","c":"o1","t":"200","x":12.27,"y":3.34},{"id":"o200","k":"ocean","c":"o1","t":"200","x":12.58,"y":4.0},{"id":"o200","k":"ocean","c":"o1","t":"200","x":13.01,"y":5.04},{"id":"o200","k":"ocean","c":"o1","t":"200","x":13.33,"y":6.97},{"id":"o200","k":"ocean","c":"o1","t":"200","x":13.81,"y":10.22},{"id":"o200","k":"ocean","c":"o1","t":"200","x":13.99,"y":13.13},{"id":"o200","k":"ocean","c":"o1","t":"200","x":14.2,"y":19.8},
{"id":"o140","k":"ocean","c":"o2","t":"140","x":12.05,"y":1.93},{"id":"o140","k":"ocean","c":"o2","t":"140","x":12.58,"y":2.24},{"id":"o140","k":"ocean","c":"o2","t":"140","x":13.22,"y":2.73},{"id":"o140","k":"ocean","c":"o2","t":"140","x":13.96,"y":3.54},{"id":"o140","k":"ocean","c":"o2","t":"140","x":14.39,"y":4.35},{"id":"o140","k":"ocean","c":"o2","t":"140","x":14.87,"y":5.27},{"id":"o140","k":"ocean","c":"o2","t":"140","x":15.43,"y":8.43},{"id":"o140","k":"ocean","c":"o2","t":"140","x":15.74,"y":10.22},{"id":"o140","k":"ocean","c":"o2","t":"140","x":16.06,"y":14.13},
{"id":"o100","k":"ocean","c":"o3","t":"100","x":12.08,"y":1.65},{"id":"o100","k":"ocean","c":"o3","t":"100","x":12.85,"y":1.91},{"id":"o100","k":"ocean","c":"o3","t":"100","x":13.81,"y":2.34},{"id":"o100","k":"ocean","c":"o3","t":"100","x":14.71,"y":2.84},{"id":"o100","k":"ocean","c":"o3","t":"100","x":15.5,"y":3.81},{"id":"o100","k":"ocean","c":"o3","t":"100","x":15.77,"y":4.35},{"id":"o100","k":"ocean","c":"o3","t":"100","x":16.17,"y":5.19},{"id":"o100","k":"ocean","c":"o3","t":"100","x":16.57,"y":6.47},{"id":"o100","k":"ocean","c":"o3","t":"100","x":16.99,"y":8.95},{"id":"o100","k":"ocean","c":"o3","t":"100","x":17.42,"y":11.16},{"id":"o100","k":"ocean","c":"o3","t":"100","x":17.89,"y":22},
{"id":"o60","k":"ocean","c":"o4","t":"60","x":12.05,"y":1.44},{"id":"o60","k":"ocean","c":"o4","t":"60","x":13.12,"y":1.72},{"id":"o60","k":"ocean","c":"o4","t":"60","x":14.18,"y":2.11},{"id":"o60","k":"ocean","c":"o4","t":"60","x":15.24,"y":2.72},{"id":"o60","k":"ocean","c":"o4","t":"60","x":16.04,"y":3.24},{"id":"o60","k":"ocean","c":"o4","t":"60","x":17.05,"y":3.98},{"id":"o60","k":"ocean","c":"o4","t":"60","x":17.68,"y":5.12},{"id":"o60","k":"ocean","c":"o4","t":"60","x":18.29,"y":7.07},
{"id":"o30","k":"ocean","c":"o5","t":"30","x":12.4,"y":1.39},{"id":"o30","k":"ocean","c":"o5","t":"30","x":13.65,"y":1.62},{"id":"o30","k":"ocean","c":"o5","t":"30","x":14.97,"y":1.99},{"id":"o30","k":"ocean","c":"o5","t":"30","x":16.3,"y":2.45},{"id":"o30","k":"ocean","c":"o5","t":"30","x":17.36,"y":3.05},{"id":"o30","k":"ocean","c":"o5","t":"30","x":18.16,"y":3.81},{"id":"o30","k":"ocean","c":"o5","t":"30","x":18.72,"y":4.69},
{"id":"o10","k":"ocean","c":"o6","t":"10","x":12.15,"y":1.16},{"id":"o10","k":"ocean","c":"o6","t":"10","x":13.65,"y":1.34},{"id":"o10","k":"ocean","c":"o6","t":"10","x":14.97,"y":1.49},{"id":"o10","k":"ocean","c":"o6","t":"10","x":16.04,"y":1.65},{"id":"o10","k":"ocean","c":"o6","t":"10","x":17.1,"y":1.88},{"id":"o10","k":"ocean","c":"o6","t":"10","x":18.16,"y":2.24},{"id":"o10","k":"ocean","c":"o6","t":"10","x":18.93,"y":2.58},
{"id":"c3500","k":"core","t":"3500","x":12.01,"y":3.34},{"id":"c3500","k":"core","t":"3500","x":12.35,"y":15.7},
{"id":"c2800","k":"core","t":"2800","x":13.33,"y":1.55},{"id":"c2800","k":"core","t":"2800","x":13.7,"y":5.67},{"id":"c2800","k":"core","t":"2800","x":13.9,"y":18.1},
{"id":"c2400","k":"core","t":"2400","x":15.12,"y":2.02},{"id":"c2400","k":"core","t":"2400","x":15.5,"y":20.7},
{"id":"c2000","k":"core","t":"2000","x":18.24,"y":3.29},{"id":"c2000","k":"core","t":"2000","x":18.37,"y":17.4},
{"id":"n","k":"none","t":"no ocean","x":12.03,"y":1.01},{"id":"n","k":"none","t":"no ocean","x":18.66,"y":1.32}
]
},
"concat":[
{
"width":470,"height":363,
"title":{"text":"Enceladus","offset":-10},
"data":{"name":"enc"},
"encoding":{
"x":{"field":"x","type":"quantitative","scale":{"domain":[1200,1900],"nice":false,"zero":false},"axis":{"values":[1200,1300,1400,1500,1600,1700,1800,1900],"format":"d","title":"C₂,₂ Gravity (x10⁶)","gridColor":"#e2e2e2"}},
"y":{"field":"y","type":"quantitative","scale":{"type":"log","domain":[120,1000],"nice":false},"axis":{"values":[200,300,500,700,1000],"labelExpr":"format(datum.value,'d')","title":"Libration Amplitude (meters)","gridColor":{"condition":{"test":"datum.value==500||datum.value==700","value":"#505050"},"value":"#dcdcdc"}}}
},
"layer":[
{"data":{"values":[{"y":140},{"y":160},{"y":180},{"y":220},{"y":240},{"y":260},{"y":280},{"y":350},{"y":400},{"y":450},{"y":550},{"y":600},{"y":650},{"y":750},{"y":800},{"y":850},{"y":900},{"y":950}]},"mark":{"type":"rule","strokeDash":[1,3],"color":"#b5b5b5","strokeWidth":1},"encoding":{"x":{"datum":1200},"x2":{"datum":1900}}},
{"transform":[{"filter":"datum.k=='core'"}],"mark":{"type":"line","strokeWidth":2,"strokeDash":[8,5],"color":"#9b9b9b"},"encoding":{"detail":{"field":"id","type":"nominal"}}},
{"transform":[{"filter":"datum.k=='none'"}],"mark":{"type":"line","strokeWidth":2,"strokeDash":[10,4,3,4],"color":"#2b2b2b"},"encoding":{"detail":{"field":"id","type":"nominal"}}},
{"transform":[{"filter":"datum.k=='ice'||datum.k=='ocean'"}],"mark":{"type":"line","strokeWidth":2},"encoding":{"detail":{"field":"id","type":"nominal"},"stroke":{"field":"c","type":"nominal","legend":null,"scale":{"domain":["i10","i12","i14","i16","i20","i30","i40","i60","i80","i120","i140","o1","o2","o3","o4","o5","o6"],"range":["#1fc3e6","#1fc6df","#1fcad5","#1fcdca","#1fd1bc","#1fd6ad","#1fd9a3","#1fdc9c","#1fdf95","#20e190","#21e38c","#1d12cc","#3410c0","#4a0fb6","#580eae","#620ea8","#6b0ea2"]}}}},
{"data":{"values":[{"x":1534.3,"x2":1565.2,"y":465,"y2":589}]},"mark":{"type":"rect","color":"#f98152"},"encoding":{"x2":{"field":"x2"},"y2":{"field":"y2"}}},
{"transform":[{"joinaggregate":[{"op":"max","field":"x","as":"mx"}],"groupby":["id"]},{"filter":"datum.x==datum.mx && datum.k=='ice'"}],"mark":{"type":"text","align":"left","baseline":"middle","dx":2,"fontSize":15,"font":"Liberation Sans"},"encoding":{"text":{"field":"t","type":"nominal"},"fill":{"field":"c","type":"nominal","legend":null,"scale":{"domain":["i10","i12","i14","i16","i20","i30","i40","i60","i80","i120","i140","o1","o2","o3","o4","o5","o6"],"range":["#1fc3e6","#1fc6df","#1fcad5","#1fcdca","#1fd1bc","#1fd6ad","#1fd9a3","#1fdc9c","#1fdf95","#20e190","#21e38c","#1d12cc","#3410c0","#4a0fb6","#580eae","#620ea8","#6b0ea2"]}}}},
{"transform":[{"joinaggregate":[{"op":"max","field":"x","as":"mx"}],"groupby":["id"]},{"filter":"datum.x==datum.mx && datum.k=='ocean'"}],"mark":{"type":"text","align":"left","baseline":"middle","angle":270,"dx":2,"fontSize":15,"font":"Liberation Sans"},"encoding":{"text":{"field":"t","type":"nominal"},"fill":{"field":"c","type":"nominal","legend":null,"scale":{"domain":["i10","i12","i14","i16","i20","i30","i40","i60","i80","i120","i140","o1","o2","o3","o4","o5","o6"],"range":["#1fc3e6","#1fc6df","#1fcad5","#1fcdca","#1fd1bc","#1fd6ad","#1fd9a3","#1fdc9c","#1fdf95","#20e190","#21e38c","#1d12cc","#3410c0","#4a0fb6","#580eae","#620ea8","#6b0ea2"]}}}},
{"transform":[{"joinaggregate":[{"op":"max","field":"x","as":"mx"}],"groupby":["id"]},{"filter":"datum.x==datum.mx && datum.k=='core'"}],"mark":{"type":"text","align":"left","baseline":"middle","angle":270,"dx":2,"fontSize":15,"font":"Liberation Sans","color":"#a6a6a6"},"encoding":{"text":{"field":"t","type":"nominal"}}},
{"transform":[{"joinaggregate":[{"op":"max","field":"x","as":"mx"}],"groupby":["id"]},{"filter":"datum.x==datum.mx && datum.k=='none'"}],"mark":{"type":"text","align":"right","baseline":"top","dy":2,"fontSize":14,"font":"Liberation Sans","color":"#333333"},"encoding":{"text":{"field":"t","type":"nominal"}}}
]
},
{
"width":470,"height":363,
"title":{"text":"Miranda","offset":-2},
"data":{"name":"mir"},
"encoding":{
"x":{"field":"x","type":"quantitative","scale":{"domain":[2200,2500],"nice":false,"zero":false},"axis":{"values":[2200,2250,2300,2350,2400,2450,2500],"format":"d","title":"C₂,₂ Gravity (x10⁶)","gridColor":"#404040"}},
"y":{"field":"y","type":"quantitative","scale":{"type":"log","domain":[54,500],"nice":false},"axis":{"values":[60,100,200,300,500],"labelExpr":"format(datum.value,'d')","title":"Libration Amplitude (meters)","gridColor":"#4a4a4a"}}
},
"layer":[
{"data":{"values":[{"y":55},{"y":65},{"y":70},{"y":75},{"y":80},{"y":85},{"y":90},{"y":95},{"y":120},{"y":140},{"y":160},{"y":180},{"y":220},{"y":240},{"y":260},{"y":280},{"y":350},{"y":400},{"y":450}]},"mark":{"type":"rule","strokeDash":[1,3],"color":"#444444","strokeWidth":1},"encoding":{"x":{"datum":2200},"x2":{"datum":2500}}},
{"transform":[{"filter":"datum.k=='core'"}],"mark":{"type":"line","strokeWidth":2,"strokeDash":[8,5],"color":"#9b9b9b"},"encoding":{"detail":{"field":"id","type":"nominal"}}},
{"transform":[{"filter":"datum.k=='none'"}],"mark":{"type":"line","strokeWidth":2,"strokeDash":[10,4,3,4],"color":"#2b2b2b"},"encoding":{"detail":{"field":"id","type":"nominal"}}},
{"transform":[{"filter":"datum.k=='ice'||datum.k=='ocean'"}],"mark":{"type":"line","strokeWidth":2},"encoding":{"detail":{"field":"id","type":"nominal"},"stroke":{"field":"c","type":"nominal","legend":null,"scale":{"domain":["i10","i12","i14","i16","i20","i30","i40","i60","i80","i120","i140","o1","o2","o3","o4","o5","o6"],"range":["#1fc3e6","#1fc6df","#1fcad5","#1fcdca","#1fd1bc","#1fd6ad","#1fd9a3","#1fdc9c","#1fdf95","#20e190","#21e38c","#1d12cc","#3410c0","#4a0fb6","#580eae","#620ea8","#6b0ea2"]}}}},
{"data":{"values":[{"x":2210,"y":400,"leg":"dice"},{"x":2210,"y":400,"leg":"docean"},{"x":2210,"y":400,"leg":"ρcore"}]},"mark":{"type":"line","strokeWidth":2},"encoding":{"color":{"field":"leg","type":"nominal","scale":{"domain":["dice","docean","ρcore"],"range":["#1fd1bc","#2a10c8","#a6a6a6"]},"legend":{"title":null,"orient":"none","legendX":25,"legendY":20,"fillColor":"white","strokeColor":"#222222","padding":5,"labelFontSize":16,"labelFont":"Liberation Sans","labelColor":"#111111","symbolSize":1000,"symbolStrokeWidth":2,"symbolType":"stroke","rowPadding":-6}},"strokeDash":{"field":"leg","type":"nominal","scale":{"domain":["dice","docean","ρcore"],"range":[[1,0],[1,0],[7,5]]},"legend":{"title":null,"orient":"none","legendX":25,"legendY":20,"fillColor":"white","strokeColor":"#222222","padding":5,"labelFontSize":16,"labelFont":"Liberation Sans","labelColor":"#111111","symbolSize":1000,"symbolStrokeWidth":2,"symbolType":"stroke","rowPadding":-6}}}},
{"transform":[{"joinaggregate":[{"op":"max","field":"x","as":"mx"}],"groupby":["id"]},{"filter":"datum.x==datum.mx && datum.k=='ice'"}],"mark":{"type":"text","align":"left","baseline":"middle","dx":2,"fontSize":15,"font":"Liberation Sans"},"encoding":{"text":{"field":"t","type":"nominal"},"fill":{"field":"c","type":"nominal","legend":null,"scale":{"domain":["i10","i12","i14","i16","i20","i30","i40","i60","i80","i120","i140","o1","o2","o3","o4","o5","o6"],"range":["#1fc3e6","#1fc6df","#1fcad5","#1fcdca","#1fd1bc","#1fd6ad","#1fd9a3","#1fdc9c","#1fdf95","#20e190","#21e38c","#1d12cc","#3410c0","#4a0fb6","#580eae","#620ea8","#6b0ea2"]}}}},
{"transform":[{"joinaggregate":[{"op":"max","field":"x","as":"mx"}],"groupby":["id"]},{"filter":"datum.x==datum.mx && datum.k=='ocean'"}],"mark":{"type":"text","align":"left","baseline":"middle","angle":270,"dx":2,"fontSize":15,"font":"Liberation Sans"},"encoding":{"text":{"field":"t","type":"nominal"},"fill":{"field":"c","type":"nominal","legend":null,"scale":{"domain":["i10","i12","i14","i16","i20","i30","i40","i60","i80","i120","i140","o1","o2","o3","o4","o5","o6"],"range":["#1fc3e6","#1fc6df","#1fcad5","#1fcdca","#1fd1bc","#1fd6ad","#1fd9a3","#1fdc9c","#1fdf95","#20e190","#21e38c","#1d12cc","#3410c0","#4a0fb6","#580eae","#620ea8","#6b0ea2"]}}}},
{"transform":[{"joinaggregate":[{"op":"max","field":"x","as":"mx"}],"groupby":["id"]},{"filter":"datum.x==datum.mx && datum.k=='core'"}],"mark":{"type":"text","align":"left","baseline":"middle","angle":270,"dx":2,"fontSize":15,"font":"Liberation Sans","color":"#a6a6a6"},"encoding":{"text":{"field":"t","type":"nominal"}}},
{"transform":[{"joinaggregate":[{"op":"max","field":"x","as":"mx"}],"groupby":["id"]},{"filter":"datum.x==datum.mx && datum.k=='none'"}],"mark":{"type":"text","align":"right","baseline":"bottom","dy":-1,"fontSize":14,"font":"Liberation Sans","color":"#333333"},"encoding":{"text":{"field":"t","type":"nominal"}}}
]
},
{
"width":470,"height":363,
"title":{"text":"Ariel","offset":-21},
"data":{"name":"ari"},
"encoding":{
"x":{"field":"x","type":"quantitative","scale":{"domain":[350,570],"nice":false,"zero":false},"axis":{"values":[350,400,450,500,550],"format":"d","title":"C₂,₂ Gravity (x10⁶)","gridColor":"#404040"}},
"y":{"field":"y","type":"quantitative","scale":{"type":"log","domain":[20.8,500],"nice":false},"axis":{"values":[30,50,100,200,300,500],"labelExpr":"format(datum.value,'d')","title":"Libration Amplitude (meters)","gridColor":"#4a4a4a"}}
},
"layer":[
{"data":{"values":[{"y":40},{"y":60},{"y":70},{"y":80},{"y":90},{"y":400}]},"mark":{"type":"rule","strokeDash":[1,3],"color":"#444444","strokeWidth":1},"encoding":{"x":{"datum":350},"x2":{"datum":570}}},
{"transform":[{"filter":"datum.k=='core'"}],"mark":{"type":"line","strokeWidth":2,"strokeDash":[8,5],"color":"#9b9b9b"},"encoding":{"detail":{"field":"id","type":"nominal"}}},
{"transform":[{"filter":"datum.k=='none'"}],"mark":{"type":"line","strokeWidth":2,"strokeDash":[10,4,3,4],"color":"#2b2b2b"},"encoding":{"detail":{"field":"id","type":"nominal"}}},
{"transform":[{"filter":"datum.k=='ice'||datum.k=='ocean'"}],"mark":{"type":"line","strokeWidth":2},"encoding":{"detail":{"field":"id","type":"nominal"},"stroke":{"field":"c","type":"nominal","legend":null,"scale":{"domain":["i10","i12","i14","i16","i20","i30","i40","i60","i80","i120","i140","o1","o2","o3","o4","o5","o6"],"range":["#1fc3e6","#1fc6df","#1fcad5","#1fcdca","#1fd1bc","#1fd6ad","#1fd9a3","#1fdc9c","#1fdf95","#20e190","#21e38c","#1d12cc","#3410c0","#4a0fb6","#580eae","#620ea8","#6b0ea2"]}}}},
{"transform":[{"joinaggregate":[{"op":"max","field":"x","as":"mx"}],"groupby":["id"]},{"filter":"datum.x==datum.mx && datum.k=='ice'"}],"mark":{"type":"text","align":"left","baseline":"middle","dx":2,"fontSize":15,"font":"Liberation Sans"},"encoding":{"text":{"field":"t","type":"nominal"},"fill":{"field":"c","type":"nominal","legend":null,"scale":{"domain":["i10","i12","i14","i16","i20","i30","i40","i60","i80","i120","i140","o1","o2","o3","o4","o5","o6"],"range":["#1fc3e6","#1fc6df","#1fcad5","#1fcdca","#1fd1bc","#1fd6ad","#1fd9a3","#1fdc9c","#1fdf95","#20e190","#21e38c","#1d12cc","#3410c0","#4a0fb6","#580eae","#620ea8","#6b0ea2"]}}}},
{"transform":[{"joinaggregate":[{"op":"max","field":"x","as":"mx"}],"groupby":["id"]},{"filter":"datum.x==datum.mx && datum.k=='ocean'"}],"mark":{"type":"text","align":"left","baseline":"middle","angle":270,"dx":2,"fontSize":15,"font":"Liberation Sans"},"encoding":{"text":{"field":"t","type":"nominal"},"fill":{"field":"c","type":"nominal","legend":null,"scale":{"domain":["i10","i12","i14","i16","i20","i30","i40","i60","i80","i120","i140","o1","o2","o3","o4","o5","o6"],"range":["#1fc3e6","#1fc6df","#1fcad5","#1fcdca","#1fd1bc","#1fd6ad","#1fd9a3","#1fdc9c","#1fdf95","#20e190","#21e38c","#1d12cc","#3410c0","#4a0fb6","#580eae","#620ea8","#6b0ea2"]}}}},
{"transform":[{"joinaggregate":[{"op":"max","field":"x","as":"mx"}],"groupby":["id"]},{"filter":"datum.x==datum.mx && datum.k=='core'"}],"mark":{"type":"text","align":"left","baseline":"middle","angle":270,"dx":2,"fontSize":15,"font":"Liberation Sans","color":"#a6a6a6"},"encoding":{"text":{"field":"t","type":"nominal"}}},
{"transform":[{"joinaggregate":[{"op":"max","field":"x","as":"mx"}],"groupby":["id"]},{"filter":"datum.x==datum.mx && datum.k=='none'"}],"mark":{"type":"text","align":"right","baseline":"top","dy":2,"dx":3,"fontSize":14,"font":"Liberation Sans","color":"#333333"},"encoding":{"text":{"field":"t","type":"nominal"}}}
]
},
{
"width":470,"height":363,
"title":{"text":"Umbriel","offset":-18},
"data":{"name":"umb"},
"encoding":{
"x":{"field":"x","type":"quantitative","scale":{"domain":[140,205],"nice":false,"zero":false},"axis":{"values":[140,150,160,170,180,190,200],"format":"d","title":"C₂,₂ Gravity (x10⁶)","gridColor":"#404040"}},
"y":{"field":"y","type":"quantitative","scale":{"type":"log","domain":[25.7,500],"nice":false},"axis":{"values":[30,50,100,200,300,500],"labelExpr":"format(datum.value,'d')","title":"Libration Amplitude (meters)","gridColor":"#dadada"}}
},
"layer":[
{"data":{"values":[{"y":80},{"y":90},{"y":400}]},"mark":{"type":"rule","strokeDash":[1,3],"color":"#b5b5b5","strokeWidth":1},"encoding":{"x":{"datum":140},"x2":{"datum":205}}},
{"data":{"values":[{"y":40},{"y":60},{"y":70}]},"mark":{"type":"rule","strokeDash":[1,3],"color":"#444444","strokeWidth":1},"encoding":{"x":{"datum":140},"x2":{"datum":205}}},
{"transform":[{"filter":"datum.k=='core'"}],"mark":{"type":"line","strokeWidth":2,"strokeDash":[8,5],"color":"#9b9b9b"},"encoding":{"detail":{"field":"id","type":"nominal"}}},
{"transform":[{"filter":"datum.k=='none'"}],"mark":{"type":"line","strokeWidth":2,"strokeDash":[10,4,3,4],"color":"#2b2b2b"},"encoding":{"detail":{"field":"id","type":"nominal"}}},
{"transform":[{"filter":"datum.k=='ice'||datum.k=='ocean'"}],"mark":{"type":"line","strokeWidth":2},"encoding":{"detail":{"field":"id","type":"nominal"},"stroke":{"field":"c","type":"nominal","legend":null,"scale":{"domain":["i10","i12","i14","i16","i20","i30","i40","i60","i80","i120","i140","o1","o2","o3","o4","o5","o6"],"range":["#1fc3e6","#1fc6df","#1fcad5","#1fcdca","#1fd1bc","#1fd6ad","#1fd9a3","#1fdc9c","#1fdf95","#20e190","#21e38c","#1d12cc","#3410c0","#4a0fb6","#580eae","#620ea8","#6b0ea2"]}}}},
{"transform":[{"joinaggregate":[{"op":"max","field":"x","as":"mx"}],"groupby":["id"]},{"filter":"datum.x==datum.mx && datum.k=='ice'"}],"mark":{"type":"text","align":"left","baseline":"middle","dx":2,"fontSize":15,"font":"Liberation Sans"},"encoding":{"text":{"field":"t","type":"nominal"},"fill":{"field":"c","type":"nominal","legend":null,"scale":{"domain":["i10","i12","i14","i16","i20","i30","i40","i60","i80","i120","i140","o1","o2","o3","o4","o5","o6"],"range":["#1fc3e6","#1fc6df","#1fcad5","#1fcdca","#1fd1bc","#1fd6ad","#1fd9a3","#1fdc9c","#1fdf95","#20e190","#21e38c","#1d12cc","#3410c0","#4a0fb6","#580eae","#620ea8","#6b0ea2"]}}}},
{"transform":[{"joinaggregate":[{"op":"max","field":"x","as":"mx"}],"groupby":["id"]},{"filter":"datum.x==datum.mx && datum.k=='ocean'"}],"mark":{"type":"text","align":"left","baseline":"middle","angle":270,"dx":2,"fontSize":15,"font":"Liberation Sans"},"encoding":{"text":{"field":"t","type":"nominal"},"fill":{"field":"c","type":"nominal","legend":null,"scale":{"domain":["i10","i12","i14","i16","i20","i30","i40","i60","i80","i120","i140","o1","o2","o3","o4","o5","o6"],"range":["#1fc3e6","#1fc6df","#1fcad5","#1fcdca","#1fd1bc","#1fd6ad","#1fd9a3","#1fdc9c","#1fdf95","#20e190","#21e38c","#1d12cc","#3410c0","#4a0fb6","#580eae","#620ea8","#6b0ea2"]}}}},
{"transform":[{"joinaggregate":[{"op":"max","field":"x","as":"mx"}],"groupby":["id"]},{"filter":"datum.x==datum.mx && datum.k=='core'"}],"mark":{"type":"text","align":"left","baseline":"middle","angle":270,"dx":2,"fontSize":15,"font":"Liberation Sans","color":"#a6a6a6"},"encoding":{"text":{"field":"t","type":"nominal"}}},
{"transform":[{"joinaggregate":[{"op":"max","field":"x","as":"mx"}],"groupby":["id"]},{"filter":"datum.x==datum.mx && datum.k=='none'"}],"mark":{"type":"text","align":"right","baseline":"top","dy":2,"dx":2,"fontSize":14,"font":"Liberation Sans","color":"#333333"},"encoding":{"text":{"field":"t","type":"nominal"}}}
]
},
{
"width":470,"height":363,
"title":{"text":"Titania","offset":-32},
"data":{"name":"tit"},
"encoding":{
"x":{"field":"x","type":"quantitative","scale":{"domain":[25,47],"nice":false,"zero":false},"axis":{"values":[25,30,35,40,45],"format":"d","title":"C₂,₂ Gravity (x10⁶)","gridColor":"#404040"}},
"y":{"field":"y","type":"quantitative","scale":{"type":"log","domain":[2.1,50],"nice":false},"axis":{"values":[3,5,10,20,30,50],"labelExpr":"format(datum.value,'d')","title":"Libration Amplitude (meters)","gridColor":"#4a4a4a"}}
},
"layer":[
{"data":{"values":[{"y":4},{"y":6},{"y":7},{"y":8},{"y":9},{"y":40}]},"mark":{"type":"rule","strokeDash":[1,3],"color":"#444444","strokeWidth":1},"encoding":{"x":{"datum":25},"x2":{"datum":47}}},
{"transform":[{"filter":"datum.k=='core'"}],"mark":{"type":"line","strokeWidth":2,"strokeDash":[8,5],"color":"#9b9b9b"},"encoding":{"detail":{"field":"id","type":"nominal"}}},
{"transform":[{"filter":"datum.k=='none'"}],"mark":{"type":"line","strokeWidth":2,"strokeDash":[10,4,3,4],"color":"#2b2b2b"},"encoding":{"detail":{"field":"id","type":"nominal"}}},
{"transform":[{"filter":"datum.k=='ice'||datum.k=='ocean'"}],"mark":{"type":"line","strokeWidth":2},"encoding":{"detail":{"field":"id","type":"nominal"},"stroke":{"field":"c","type":"nominal","legend":null,"scale":{"domain":["i10","i12","i14","i16","i20","i30","i40","i60","i80","i120","i140","o1","o2","o3","o4","o5","o6"],"range":["#1fc3e6","#1fc6df","#1fcad5","#1fcdca","#1fd1bc","#1fd6ad","#1fd9a3","#1fdc9c","#1fdf95","#20e190","#21e38c","#1d12cc","#3410c0","#4a0fb6","#580eae","#620ea8","#6b0ea2"]}}}},
{"transform":[{"joinaggregate":[{"op":"max","field":"x","as":"mx"}],"groupby":["id"]},{"filter":"datum.x==datum.mx && datum.k=='ice'"}],"mark":{"type":"text","align":"left","baseline":"middle","dx":2,"fontSize":15,"font":"Liberation Sans"},"encoding":{"text":{"field":"t","type":"nominal"},"fill":{"field":"c","type":"nominal","legend":null,"scale":{"domain":["i10","i12","i14","i16","i20","i30","i40","i60","i80","i120","i140","o1","o2","o3","o4","o5","o6"],"range":["#1fc3e6","#1fc6df","#1fcad5","#1fcdca","#1fd1bc","#1fd6ad","#1fd9a3","#1fdc9c","#1fdf95","#20e190","#21e38c","#1d12cc","#3410c0","#4a0fb6","#580eae","#620ea8","#6b0ea2"]}}}},
{"transform":[{"joinaggregate":[{"op":"max","field":"x","as":"mx"}],"groupby":["id"]},{"filter":"datum.x==datum.mx && datum.k=='ocean'"}],"mark":{"type":"text","align":"left","baseline":"middle","angle":270,"dx":2,"fontSize":15,"font":"Liberation Sans"},"encoding":{"text":{"field":"t","type":"nominal"},"fill":{"field":"c","type":"nominal","legend":null,"scale":{"domain":["i10","i12","i14","i16","i20","i30","i40","i60","i80","i120","i140","o1","o2","o3","o4","o5","o6"],"range":["#1fc3e6","#1fc6df","#1fcad5","#1fcdca","#1fd1bc","#1fd6ad","#1fd9a3","#1fdc9c","#1fdf95","#20e190","#21e38c","#1d12cc","#3410c0","#4a0fb6","#580eae","#620ea8","#6b0ea2"]}}}},
{"transform":[{"joinaggregate":[{"op":"max","field":"x","as":"mx"}],"groupby":["id"]},{"filter":"datum.x==datum.mx && datum.k=='core'"}],"mark":{"type":"text","align":"left","baseline":"middle","angle":270,"dx":2,"fontSize":15,"font":"Liberation Sans","color":"#a6a6a6"},"encoding":{"text":{"field":"t","type":"nominal"}}},
{"transform":[{"joinaggregate":[{"op":"max","field":"x","as":"mx"}],"groupby":["id"]},{"filter":"datum.x==datum.mx && datum.k=='none'"}],"mark":{"type":"text","align":"right","baseline":"top","dy":2,"dx":2,"fontSize":14,"font":"Liberation Sans","color":"#333333"},"encoding":{"text":{"field":"t","type":"nominal"}}}
]
},
{
"width":470,"height":363,
"title":{"text":"Oberon","offset":-13},
"data":{"name":"obe"},
"encoding":{
"x":{"field":"x","type":"quantitative","scale":{"domain":[12,19],"nice":false,"zero":false},"axis":{"values":[12,13,14,15,16,17,18,19],"format":"d","title":"C₂,₂ Gravity (x10⁶)","gridColor":"#404040"}},
"y":{"field":"y","type":"quantitative","scale":{"type":"log","domain":[1,25],"nice":false},"axis":{"values":[2,3,4,6,10,20],"labelExpr":"format(datum.value,'d')","title":"Libration Amplitude (meters)","gridColor":"#4a4a4a"}}
},
"layer":[
{"data":{"values":[{"y":5},{"y":7},{"y":8},{"y":9}]},"mark":{"type":"rule","strokeDash":[1,3],"color":"#444444","strokeWidth":1},"encoding":{"x":{"datum":12},"x2":{"datum":19}}},
{"transform":[{"filter":"datum.k=='core'"}],"mark":{"type":"line","strokeWidth":2,"strokeDash":[8,5],"color":"#9b9b9b"},"encoding":{"detail":{"field":"id","type":"nominal"}}},
{"transform":[{"filter":"datum.k=='none'"}],"mark":{"type":"line","strokeWidth":2,"strokeDash":[10,4,3,4],"color":"#2b2b2b"},"encoding":{"detail":{"field":"id","type":"nominal"}}},
{"transform":[{"filter":"datum.k=='ice'||datum.k=='ocean'"}],"mark":{"type":"line","strokeWidth":2},"encoding":{"detail":{"field":"id","type":"nominal"},"stroke":{"field":"c","type":"nominal","legend":null,"scale":{"domain":["i10","i12","i14","i16","i20","i30","i40","i60","i80","i120","i140","o1","o2","o3","o4","o5","o6"],"range":["#1fc3e6","#1fc6df","#1fcad5","#1fcdca","#1fd1bc","#1fd6ad","#1fd9a3","#1fdc9c","#1fdf95","#20e190","#21e38c","#1d12cc","#3410c0","#4a0fb6","#580eae","#620ea8","#6b0ea2"]}}}},
{"transform":[{"joinaggregate":[{"op":"max","field":"x","as":"mx"}],"groupby":["id"]},{"filter":"datum.x==datum.mx && datum.k=='ice'"}],"mark":{"type":"text","align":"left","baseline":"middle","dx":2,"fontSize":15,"font":"Liberation Sans"},"encoding":{"text":{"field":"t","type":"nominal"},"fill":{"field":"c","type":"nominal","legend":null,"scale":{"domain":["i10","i12","i14","i16","i20","i30","i40","i60","i80","i120","i140","o1","o2","o3","o4","o5","o6"],"range":["#1fc3e6","#1fc6df","#1fcad5","#1fcdca","#1fd1bc","#1fd6ad","#1fd9a3","#1fdc9c","#1fdf95","#20e190","#21e38c","#1d12cc","#3410c0","#4a0fb6","#580eae","#620ea8","#6b0ea2"]}}}},
{"transform":[{"joinaggregate":[{"op":"max","field":"x","as":"mx"}],"groupby":["id"]},{"filter":"datum.x==datum.mx && datum.k=='ocean'"}],"mark":{"type":"text","align":"left","baseline":"middle","angle":270,"dx":2,"fontSize":15,"font":"Liberation Sans"},"encoding":{"text":{"field":"t","type":"nominal"},"fill":{"field":"c","type":"nominal","legend":null,"scale":{"domain":["i10","i12","i14","i16","i20","i30","i40","i60","i80","i120","i140","o1","o2","o3","o4","o5","o6"],"range":["#1fc3e6","#1fc6df","#1fcad5","#1fcdca","#1fd1bc","#1fd6ad","#1fd9a3","#1fdc9c","#1fdf95","#20e190","#21e38c","#1d12cc","#3410c0","#4a0fb6","#580eae","#620ea8","#6b0ea2"]}}}},
{"transform":[{"joinaggregate":[{"op":"max","field":"x","as":"mx"}],"groupby":["id"]},{"filter":"datum.x==datum.mx && datum.k=='core'"}],"mark":{"type":"text","align":"left","baseline":"middle","angle":270,"dx":2,"fontSize":15,"font":"Liberation Sans","color":"#a6a6a6"},"encoding":{"text":{"field":"t","type":"nominal"}}},
{"transform":[{"joinaggregate":[{"op":"max","field":"x","as":"mx"}],"groupby":["id"]},{"filter":"datum.x==datum.mx && datum.k=='none'"}],"mark":{"type":"text","align":"right","baseline":"top","dy":2,"dx":2,"fontSize":14,"font":"Liberation Sans","color":"#333333"},"encoding":{"text":{"field":"t","type":"nominal"}}}
]
}
],
"config":{
"view":{"stroke":"#2a2a2a","strokeWidth":1},
"axis":{"labelFont":"Liberation Sans","labelFontSize":15,"labelColor":"#262626","titleFont":"Liberation Sans","titleFontSize":16,"titleFontWeight":"normal","titleColor":"#262626","ticks":false,"domain":false,"labelPadding":6,"gridOpacity":1,"gridWidth":1,"labelFlush":false,"labelOverlap":false},
"axisX":{"titlePadding":10,"labelPadding":8},
"axisY":{"titlePadding":6},
"title":{"anchor":"start","frame":"group","fontSize":34,"font":"DejaVu Sans","fontWeight":"normal","color":"#000000","dx":-4}
}
}
